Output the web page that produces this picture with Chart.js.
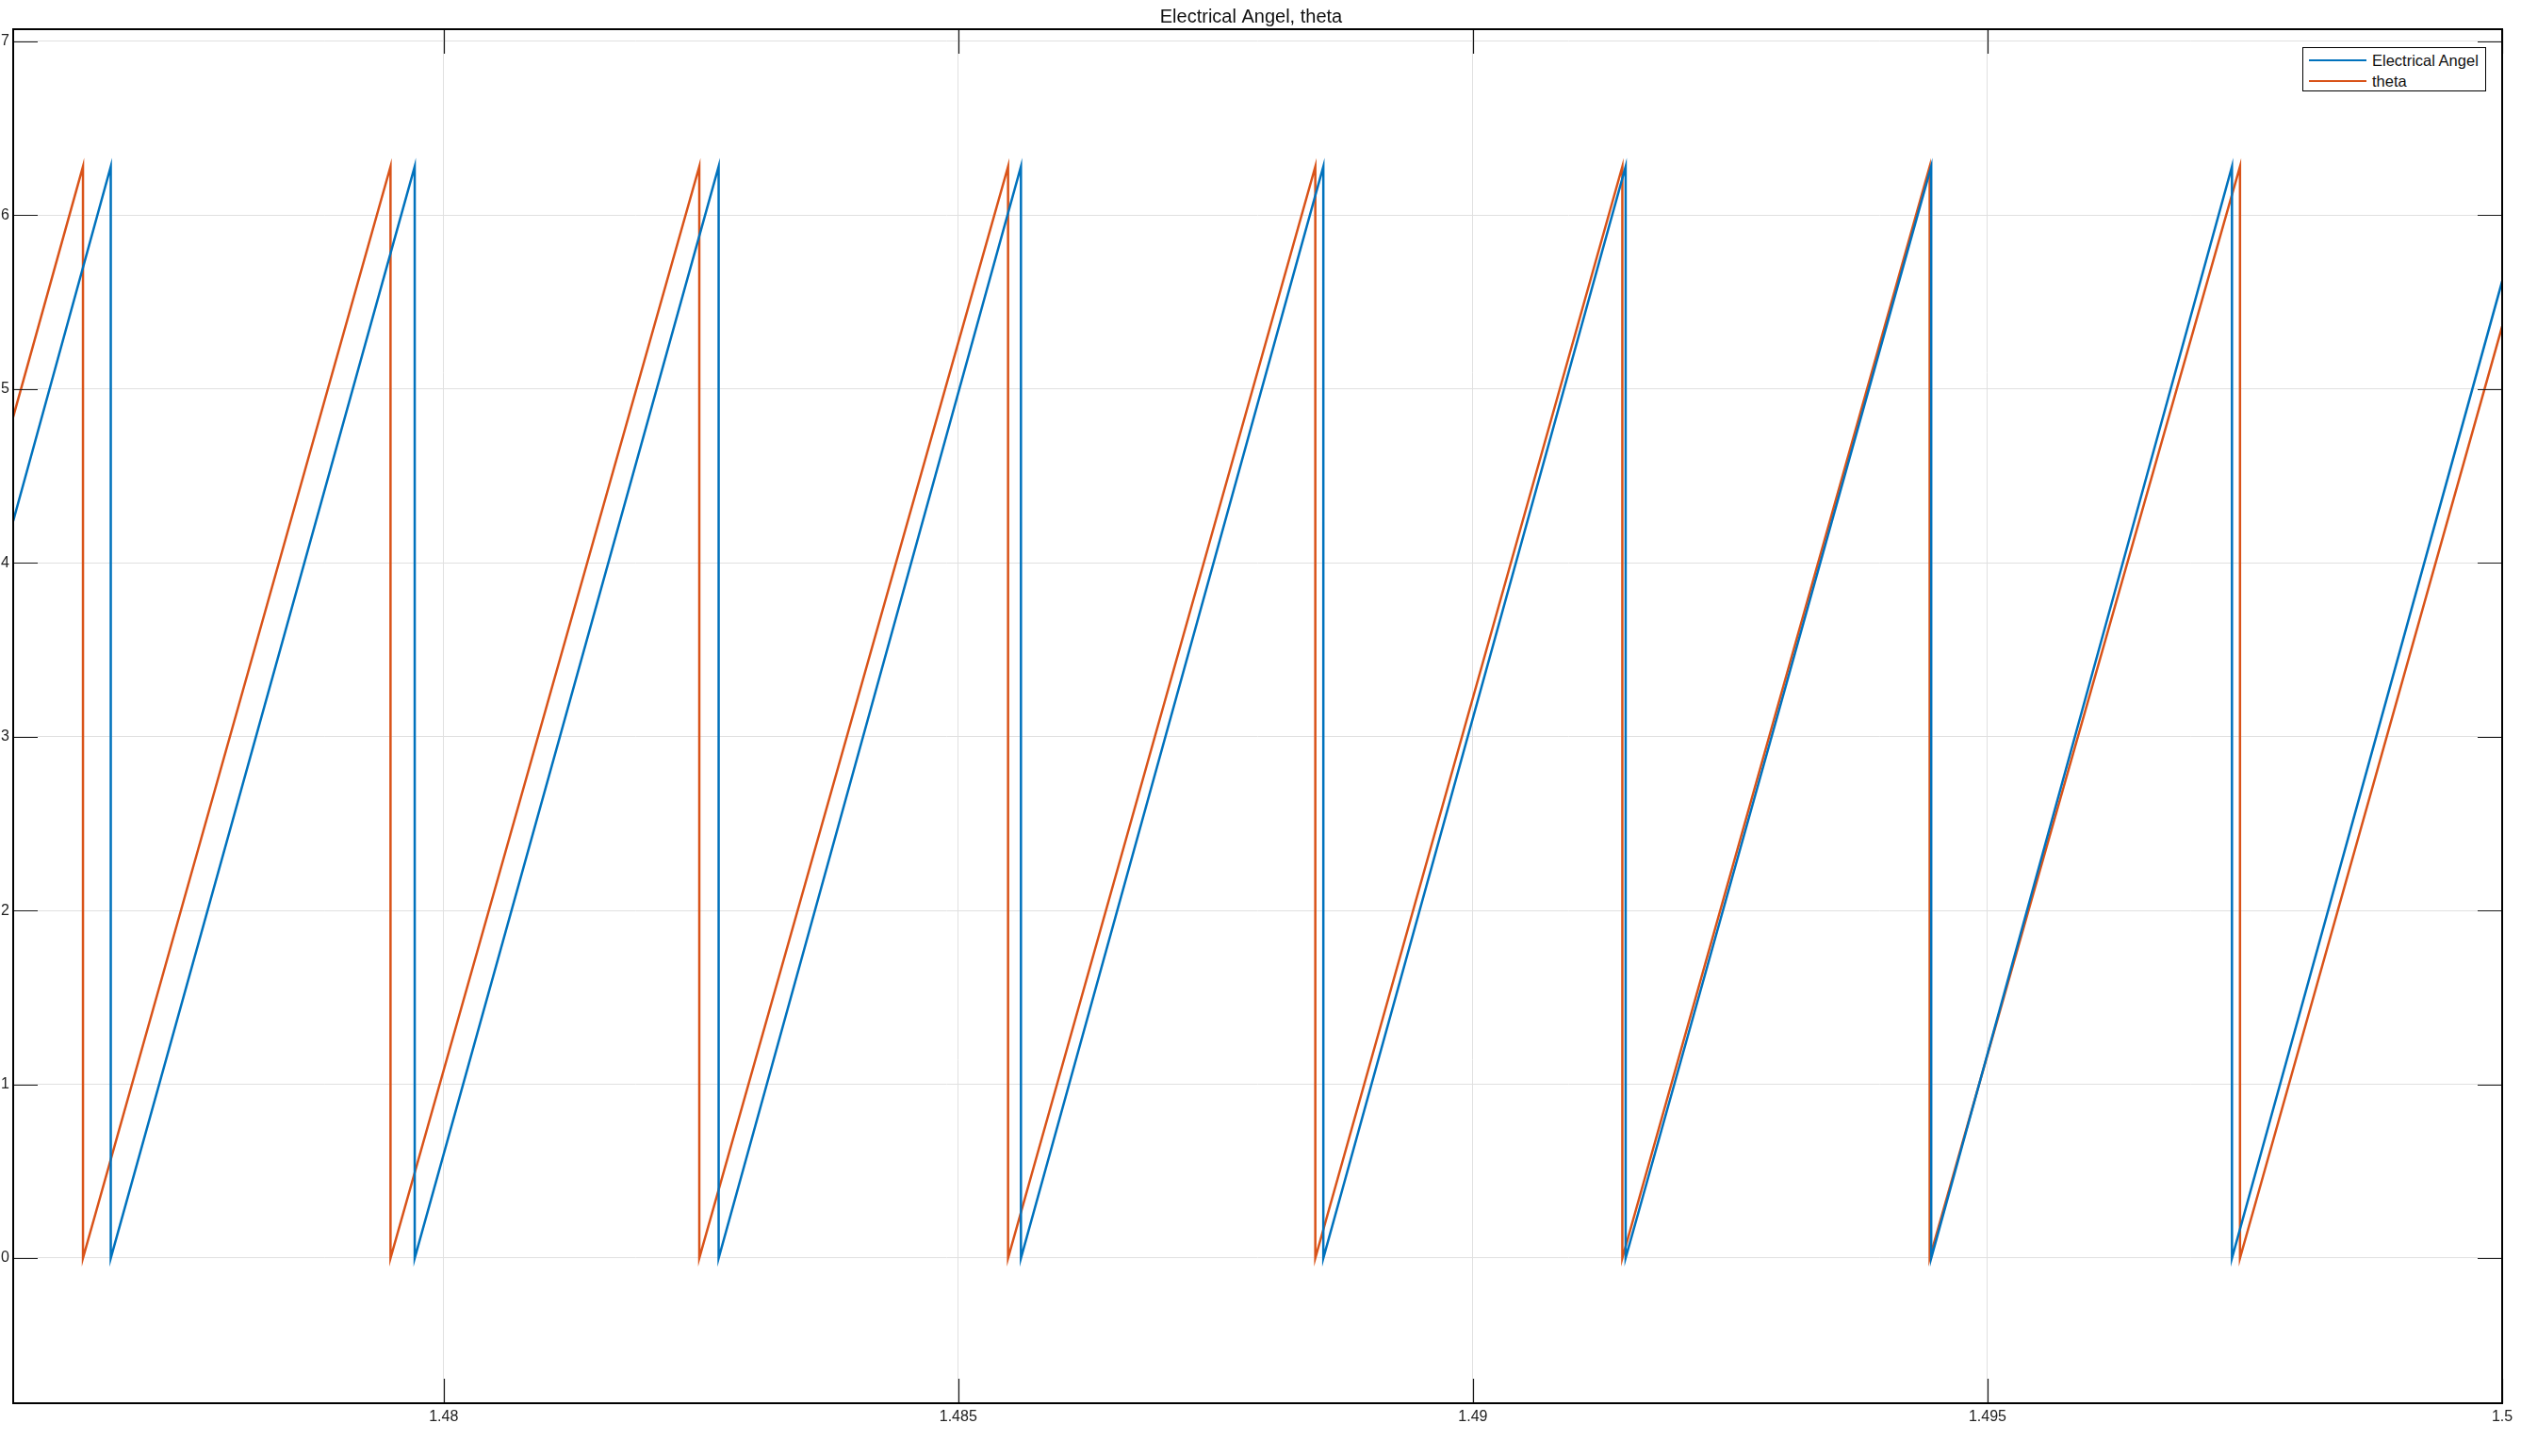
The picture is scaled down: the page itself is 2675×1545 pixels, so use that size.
<!DOCTYPE html>
<html>
<head>
<meta charset="utf-8">
<title>Electrical Angel, theta</title>
<script src="https://cdn.jsdelivr.net/npm/chart.js@4.4.1/dist/chart.umd.min.js"></script>
<style>
  html, body { margin: 0; padding: 0; background: #fff; }
  #wrap { position: relative; width: 2675px; height: 1545px; }
  #legend {
    position: absolute; left: 2443px; top: 50px; width: 193px; height: 45px;
    border: 1.5px solid #000; background: #fff;
    font-family: "Liberation Sans", Arial, sans-serif; font-size: 16.5px; color: #111;
  }
  #legend .row { position: absolute; left: 0; height: 22px; display: flex; align-items: center; }
  #legend .swatch { width: 61px; height: 2px; margin-left: 6px; margin-right: 6px; }
</style>
</head>
<body>
<div id="wrap">
  <canvas id="chart" width="2675" height="1545"></canvas>
  <div id="legend"></div>
</div>
<script>
// --- Axis ticks ---
const xTicks = [1.48, 1.485, 1.49, 1.495, 1.5];
const xTickLabels = ['1.48', '1.485', '1.49', '1.495', '1.5'];
const yTicks = [0, 1, 2, 3, 4, 5, 6, 7];

// --- Electrical Angel (blue) ---
const eaTime = [1.475818,
  1.476766, 1.476766, 1.479719, 1.479719, 1.482672, 1.482672, 1.485609, 1.485609,
  1.488547, 1.488547, 1.491484, 1.491484, 1.494453, 1.494453, 1.497375, 1.497375,
  1.5];
const eaValues = [4.24,
  6.28, 0, 6.28, 0, 6.28, 0, 6.28, 0,
  6.28, 0, 6.28, 0, 6.28, 0, 6.28, 0,
  5.62];

// --- theta (orange) ---
const thetaTime = [1.475818,
  1.476496, 1.476496, 1.479484, 1.479484, 1.482484, 1.482484, 1.485484, 1.485484,
  1.488469, 1.488469, 1.491452, 1.491452, 1.494438, 1.494438, 1.497453, 1.497453,
  1.5];
const thetaValues = [4.84,
  6.28, 0, 6.28, 0, 6.28, 0, 6.28, 0,
  6.28, 0, 6.28, 0, 6.28, 0, 6.28, 0,
  5.36];

const BLUE = '#0072BD';
const ORANGE = '#D95319';
const FONT = '"Liberation Sans", Arial, sans-serif';

function zip(ts, vs) {
  return ts.map((t, i) => ({ x: t, y: vs[i] }));
}

// inward ticks + axes box, MATLAB style
const boxPlugin = {
  id: 'boxTicks',
  afterDraw(chart) {
    const { ctx, chartArea: a, scales: { x, y } } = chart;
    ctx.save();
    ctx.strokeStyle = '#1a1a1a';
    ctx.lineWidth = 1.2;
    ctx.beginPath();
    xTicks.forEach(v => {
      const px = Math.round(x.getPixelForValue(v)) + 0.5;
      ctx.moveTo(px, a.bottom); ctx.lineTo(px, a.bottom - 26);
      ctx.moveTo(px, a.top); ctx.lineTo(px, a.top + 26);
    });
    yTicks.forEach(v => {
      const py = Math.round(y.getPixelForValue(v)) + 0.5;
      ctx.moveTo(a.left, py); ctx.lineTo(a.left + 26, py);
      ctx.moveTo(a.right, py); ctx.lineTo(a.right - 26, py);
    });
    ctx.stroke();
    ctx.lineWidth = 2;
    ctx.strokeStyle = '#000';
    ctx.strokeRect(a.left, a.top, a.right - a.left, a.bottom - a.top);
    ctx.restore();
  }
};

const chart = new Chart(document.getElementById('chart'), {
  type: 'line',
  data: {
    datasets: [
      { label: 'Electrical Angel', data: zip(eaTime, eaValues), borderColor: BLUE },
      { label: 'theta', data: zip(thetaTime, thetaValues), borderColor: ORANGE },
    ].map(ds => ({ ...ds, borderWidth: 2.5, pointRadius: 0, tension: 0, fill: false })),
  },
  options: {
    responsive: false,
    animation: false,
    devicePixelRatio: 1,
    layout: { padding: { left: 0, right: 20, top: 0, bottom: 0 } },
    scales: {
      x: {
        type: 'linear',
        min: 1.475818,
        max: 1.5,
        afterBuildTicks: s => { s.ticks = xTicks.map(value => ({ value })); },
        afterFit: s => { s.height = 56; },
        grid: { color: '#e0e0e0', lineWidth: 1, drawTicks: false },
        border: { display: false },
        ticks: {
          padding: 5, maxRotation: 0, autoSkip: false, color: '#222',
          font: { family: FONT, size: 16 },
          callback: v => xTickLabels[xTicks.indexOf(v)],
        },
      },
      y: {
        type: 'linear',
        min: -0.835,
        max: 7.07,
        afterBuildTicks: s => { s.ticks = yTicks.map(value => ({ value })); },
        afterFit: s => { s.width = 14; },
        grid: { color: '#e0e0e0', lineWidth: 1, drawTicks: false },
        border: { display: false },
        ticks: {
          padding: 4, color: '#222',
          font: { family: FONT, size: 16 },
          callback: v => String(v),
        },
      },
    },
    plugins: {
      legend: { display: false },
      tooltip: { enabled: false },
      title: {
        display: true,
        text: 'Electrical Angel, theta',
        color: '#111',
        font: { family: FONT, size: 20, weight: 'normal' },
        padding: { top: 6, bottom: 1 },
      },
    },
  },
  plugins: [boxPlugin],
});

// --- HTML legend built from datasets ---
const legend = document.getElementById('legend');
chart.data.datasets.forEach((ds, i) => {
  const row = document.createElement('div');
  row.className = 'row';
  row.style.top = (2 + i * 22) + 'px';
  const sw = document.createElement('span');
  sw.className = 'swatch';
  sw.style.background = ds.borderColor;
  const txt = document.createElement('span');
  txt.textContent = ds.label;
  row.appendChild(sw);
  row.appendChild(txt);
  legend.appendChild(row);
});
</script>
</body>
</html>
